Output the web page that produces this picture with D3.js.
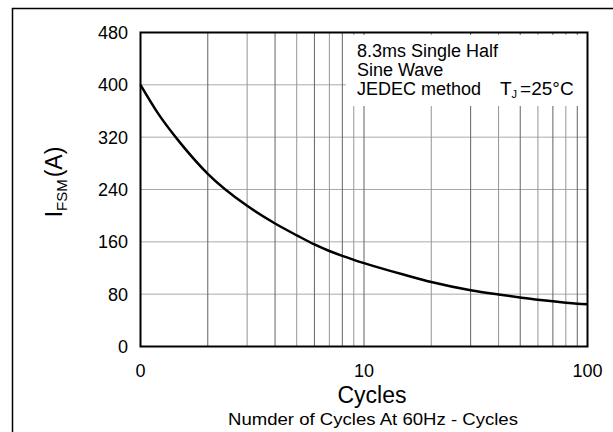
<!DOCTYPE html>
<html>
<head>
<script src="https://d3js.org/d3.v7.min.js"></script>
<style>
  body { margin: 0; background: #fff; }
  text { font-family: Arial, "Liberation Sans", sans-serif; fill: #000; }
</style>
</head>
<body>
<div class="chart"></div>
<script>
// surge current vs number of cycles
const cycles = [1, 1.2, 1.5, 2, 3, 4, 5, 6, 7, 8, 9, 10, 15, 20, 30, 40, 50, 60, 70, 80, 90, 100];
const ifsm   = [400, 356, 312, 264, 215, 188, 170, 156, 146, 138.5, 132.5, 127.5, 110, 98.5, 86, 79.5, 75, 71.5, 69, 67, 65.5, 64.5];

const yTicks = [0, 80, 160, 240, 320, 400, 480];
const xTicks = [1, 10, 100];
const xTickLabels = ["0", "10", "100"];
const xGrid = [2, 3, 4, 5, 6, 7, 8, 9, 10, 20, 30, 40, 50, 60, 70, 80, 90];

const W = 613, H = 432;
const pLeft = 140.5, pRight = 587.5, pTop = 32.5, pBottom = 346.5;

const svg = d3.select(".chart").append("svg")
    .attr("width", W)
    .attr("height", H);

// outer frame (only top and left edges show in the crop)
svg.append("path")
    .attr("d", `M12.5,${H} V8.5 H${W}`)
    .attr("fill", "none")
    .attr("stroke", "#000")
    .attr("stroke-width", 1.5);

const x = d3.scaleLog()
    .domain([1, 100])
    .range([pLeft, pRight]);

const y = d3.scaleLinear()
    .domain([0, 480])
    .range([pBottom, pTop]);

// grid
svg.append("g")
    .selectAll("line")
    .data(yTicks.slice(1, -1))
    .join("line")
    .attr("x1", pLeft).attr("x2", pRight)
    .attr("y1", d => y(d)).attr("y2", d => y(d))
    .attr("stroke", "#aaa")
    .attr("stroke-width", 1);

svg.append("g")
    .selectAll("line")
    .data(xGrid)
    .join("line")
    .attr("x1", d => x(d)).attr("x2", d => x(d))
    .attr("y1", pTop).attr("y2", pBottom)
    .attr("stroke", (d, i) => i % 2 ? "#9a9292" : "#6a6060")
    .attr("stroke-width", 1);

// note box covering the grid
svg.append("rect")
    .attr("x", 346)
    .attr("y", 35)
    .attr("width", pRight - 346 - 1)
    .attr("height", 71)
    .attr("fill", "#fff");

const note = svg.append("g").style("font-size", "18px");
note.append("text").attr("x", 357).attr("y", 57).text("8.3ms Single Half");
note.append("text").attr("x", 357).attr("y", 76).text("Sine Wave");
note.append("text").attr("x", 357).attr("y", 95).text("JEDEC method");
const tj = note.append("text").attr("x", 500).attr("y", 95).style("font-size", "19px");
tj.append("tspan").text("T");
tj.append("tspan").attr("dy", 3).style("font-size", "11px").text("J");
tj.append("tspan").attr("dy", -3).attr("dx", 3).text("=25°C");

// plot frame
svg.append("rect")
    .attr("x", pLeft).attr("y", pTop)
    .attr("width", pRight - pLeft)
    .attr("height", pBottom - pTop)
    .attr("fill", "none")
    .attr("stroke", "#000")
    .attr("stroke-width", 2);

// curve
const line = d3.line()
    .x((d, i) => x(cycles[i]))
    .y(d => y(d))
    .curve(d3.curveMonotoneX);

svg.append("path")
    .datum(ifsm)
    .attr("d", line)
    .attr("fill", "none")
    .attr("stroke", "#000")
    .attr("stroke-width", 2.5);

// tick labels
svg.append("g")
    .selectAll("text")
    .data(yTicks)
    .join("text")
    .attr("x", 128)
    .attr("y", d => y(d))
    .attr("dy", "0.36em")
    .attr("text-anchor", "end")
    .style("font-size", "18px")
    .text(d => d);

svg.append("g")
    .selectAll("text")
    .data(xTicks)
    .join("text")
    .attr("x", d => x(d))
    .attr("y", 377)
    .attr("text-anchor", "middle")
    .style("font-size", "18px")
    .text((d, i) => xTickLabels[i]);

// axis titles
svg.append("text")
    .attr("x", 372)
    .attr("y", 403)
    .attr("text-anchor", "middle")
    .style("font-size", "23px")
    .text("Cycles");

svg.append("text")
    .attr("x", 373)
    .attr("y", 425)
    .attr("text-anchor", "middle")
    .attr("textLength", 290)
    .attr("lengthAdjust", "spacingAndGlyphs")
    .style("font-size", "16.5px")
    .text("Numder of Cycles At 60Hz - Cycles");

const yl = svg.append("text")
    .attr("transform", "translate(62,182) rotate(-90)")
    .attr("text-anchor", "middle")
    .style("font-size", "23px");
yl.append("tspan").text("I");
yl.append("tspan").attr("dy", 5).style("font-size", "15px").text("FSM");
yl.append("tspan").attr("dy", -5).attr("dx", 2).text("(A)");
</script>
</body>
</html>
